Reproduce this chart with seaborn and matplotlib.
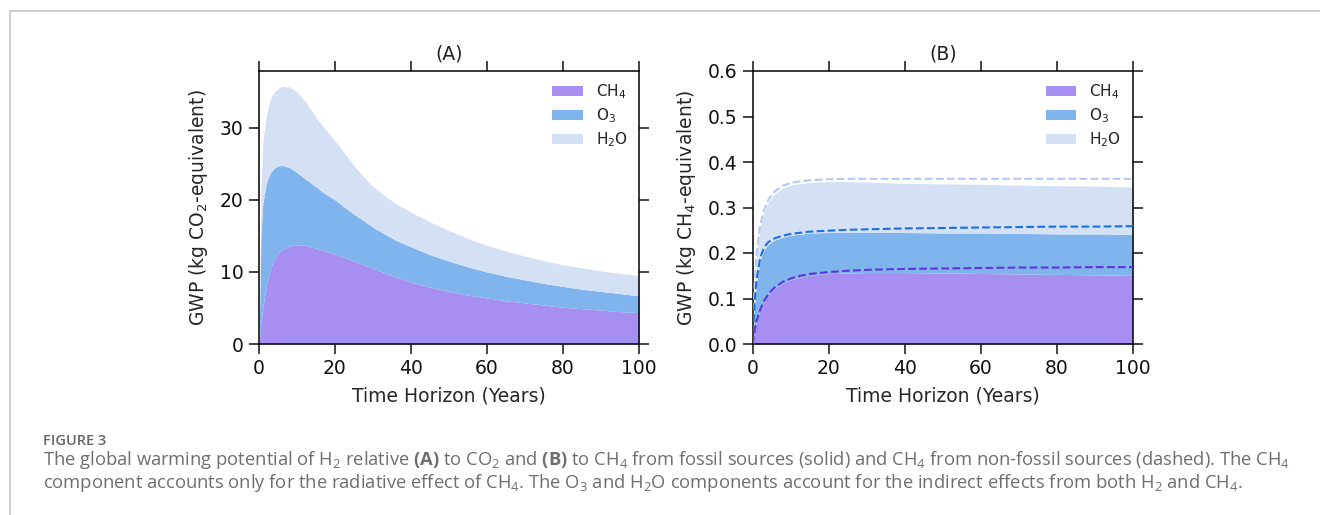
import matplotlib
matplotlib.use("Agg")
import numpy as np
import pandas as pd
import seaborn as sns
import matplotlib.pyplot as plt
from matplotlib.lines import Line2D
from matplotlib.patches import Patch

# ---------------- data ----------------
# Panel A: GWP of H2 relative to CO2 (fossil CH4), stacked tops
years_a = [0, 0.5, 1, 2, 3, 4, 5, 6, 8, 10, 12, 15, 17, 20, 22, 25, 27, 30, 33, 36, 40,
           45, 50, 55, 60, 65, 70, 75, 80, 85, 90, 95, 100]
a_ch4 = [0, 3.0, 5.0, 8.4, 10.5, 11.8, 12.6, 13.1, 13.6, 13.75, 13.7, 13.3, 13.0, 12.5,
         12.1, 11.5, 11.1, 10.5, 9.9, 9.3, 8.6, 7.9, 7.3, 6.8, 6.4, 6.0, 5.7, 5.4, 5.1,
         4.9, 4.7, 4.5, 4.35]
a_ch4_o3 = [0, 15.0, 19.5, 22.5, 23.8, 24.4, 24.7, 24.8, 24.5, 23.8, 23.0, 21.8, 21.0,
            20.0, 19.2, 18.0, 17.3, 16.2, 15.3, 14.4, 13.5, 12.4, 11.5, 10.7, 10.0, 9.4,
            8.9, 8.4, 8.0, 7.6, 7.3, 7.0, 6.7]
a_total = [0, 21.0, 28.0, 32.0, 34.0, 35.0, 35.5, 35.75, 35.7, 35.0, 33.8, 31.5, 30.1,
           28.2, 26.8, 24.75, 23.5, 21.85, 20.6, 19.5, 18.3, 16.95, 15.75, 14.65, 13.7,
           12.9, 12.2, 11.55, 11.0, 10.55, 10.15, 9.8, 9.5]

# Panel B: GWP of H2 relative to CH4, fossil (solid fill) and non-fossil (dashed)
years_b = [0, 0.5, 1, 2, 3, 4, 5, 6, 8, 10, 12, 15, 20, 25, 30, 40, 50, 60, 70, 80, 90, 100]
b_ch4 = [0, 0.03, 0.05, 0.075, 0.093, 0.106, 0.116, 0.123, 0.134, 0.141, 0.146, 0.151, 0.155,
         0.156, 0.157, 0.157, 0.156, 0.155, 0.154, 0.153, 0.152, 0.151]
b_ch4_o3 = [0, 0.085, 0.135, 0.185, 0.207, 0.218, 0.225, 0.229, 0.235, 0.239, 0.241, 0.244,
            0.245, 0.246, 0.246, 0.245, 0.244, 0.244, 0.243, 0.242, 0.242, 0.241]
b_total = [0, 0.125, 0.195, 0.257, 0.29, 0.31, 0.323, 0.332, 0.343, 0.349, 0.352, 0.355,
           0.357, 0.357, 0.356, 0.353, 0.352, 0.351, 0.349, 0.348, 0.347, 0.345]
bn_ch4 = [0, 0.03, 0.05, 0.076, 0.095, 0.108, 0.118, 0.126, 0.137, 0.144, 0.149, 0.154,
          0.158, 0.161, 0.163, 0.165, 0.166, 0.167, 0.168, 0.168, 0.169, 0.169]
bn_ch4_o3 = [0, 0.09, 0.14, 0.19, 0.212, 0.223, 0.229, 0.233, 0.238, 0.242, 0.244, 0.247,
             0.249, 0.251, 0.252, 0.254, 0.255, 0.256, 0.257, 0.258, 0.258, 0.259]
bn_total = [0, 0.13, 0.2, 0.262, 0.295, 0.315, 0.328, 0.337, 0.348, 0.354, 0.357, 0.36,
            0.362, 0.363, 0.363, 0.363, 0.363, 0.363, 0.363, 0.363, 0.363, 0.363]

components = ["CH$_4$", "O$_3$", "H$_2$O"]
xticks = [0, 20, 40, 60, 80, 100]
yticks_a = [0, 10, 20, 30]
yticks_b = [0.0, 0.1, 0.2, 0.3, 0.4, 0.5, 0.6]
titles = ["(A)", "(B)"]
ylabels = ["GWP (kg CO$_2$-equivalent)", "GWP (kg CH$_4$-equivalent)"]
xlabel = "Time Horizon (Years)"
fig_label = "FIGURE 3"
caption_1 = (r"The global warming potential of H$_2$ relative $\mathbf{(A)}$ to CO$_2$ and "
             r"$\mathbf{(B)}$ to CH$_4$ from fossil sources (solid) and CH$_4$ from "
             r"non-fossil sources (dashed). The CH$_4$")
caption_2 = (r"component accounts only for the radiative effect of CH$_4$. The O$_3$ and "
             r"H$_2$O components account for the indirect effects from both H$_2$ and CH$_4$.")

# ---------------- style ----------------
fill_colors = ["#a68ff1", "#80b4ec", "#d4e1f4"]
dash_colors = ["#5c35de", "#1b6fe2", "#b3c9f1"]

sns.set_theme(style="ticks")
plt.rcParams["font.family"] = ["DejaVu Sans"]
plt.rcParams["mathtext.fontset"] = "dejavusans"
plt.rcParams["mathtext.rm"] = "Open Sans"
plt.rcParams["mathtext.it"] = "Open Sans:italic"
plt.rcParams["mathtext.bf"] = "Open Sans:bold"
plt.rcParams["axes.edgecolor"] = "black"
plt.rcParams["axes.linewidth"] = 1.1
plt.rcParams["text.color"] = "#222222"

W, H = 1320, 515
fig = plt.figure(figsize=(W / 100, H / 100), dpi=100)
fig.patch.set_facecolor("white")

axA = fig.add_axes([259 / W, 1 - 344 / H, 380 / W, 273 / H])
axB = fig.add_axes([752.7 / W, 1 - 344 / H, 380 / W, 273 / H])

# Panel A fills
ta = np.array(years_a)
axA.fill_between(ta, 0, a_ch4, color=fill_colors[0], lw=0)
axA.fill_between(ta, a_ch4, a_ch4_o3, color=fill_colors[1], lw=0)
axA.fill_between(ta, a_ch4_o3, a_total, color=fill_colors[2], lw=0)

# Panel B fills (fossil)
tb = np.array(years_b)
axB.fill_between(tb, 0, b_ch4, color=fill_colors[0], lw=0)
axB.fill_between(tb, b_ch4, b_ch4_o3, color=fill_colors[1], lw=0)
axB.fill_between(tb, b_ch4_o3, b_total, color=fill_colors[2], lw=0)

# Panel B dashed (non-fossil)
dash_df = pd.DataFrame({"year": years_b * 3,
                        "value": bn_ch4 + bn_ch4_o3 + bn_total,
                        "comp": [c for c in components for _ in years_b]})
for comp, col in zip(reversed(components), reversed(dash_colors)):
    sub = dash_df[dash_df["comp"] == comp]
    sns.lineplot(data=sub, x="year", y="value", ax=axB, color=col,
                 linestyle="--", linewidth=1.5, legend=False, zorder=3)

for ax, ttl, ylab, yt in zip([axA, axB], titles, ylabels, [yticks_a, yticks_b]):
    ax.set_xlim(0, 100)
    ax.set_xticks(xticks)
    ax.set_yticks(yt)
    if ax is axB:
        ax.set_yticklabels([f"{v:.1f}" for v in yt])
    ax.tick_params(axis="both", which="major", direction="out", length=7, width=1.1,
                   top=True, right=True, labeltop=False, labelright=False,
                   labelsize=13.5, pad=4, colors="#111111")
    ax.set_title(ttl, fontsize=13.5, pad=8)
    ax.set_xlabel(xlabel, fontsize=13.5, labelpad=6)
    ax.set_ylabel(ylab, fontsize=13.5, labelpad=7)
    for s in ax.spines.values():
        s.set_visible(True)
        s.set_linewidth(1.1)
    handles = [Patch(facecolor=c, edgecolor="none") for c in fill_colors]
    ax.legend(handles, components, loc="upper right", frameon=False, fontsize=11,
              handlelength=2.0, handleheight=0.65, labelspacing=0.35,
              handletextpad=0.85, borderaxespad=0.35)

axA.set_ylim(0, 37.9)
axB.set_ylim(0, 0.6)

# ---------------- page frame & caption ----------------
fig.add_artist(Line2D([10 / W, 1.0], [1 - 11 / H, 1 - 11 / H], transform=fig.transFigure,
                      color="#c9c9c9", lw=1.3))
fig.add_artist(Line2D([10 / W, 10 / W], [1 - 11 / H, 0.0], transform=fig.transFigure,
                      color="#c9c9c9", lw=1.3))

fig.text(43 / W, 1 - 445 / H, fig_label, fontsize=10.5, color="#666666",
         family="Open Sans", fontweight="semibold", va="baseline", ha="left")
cap_kw = dict(color="#6e6e6e", family="Open Sans", va="baseline", ha="left",
              math_fontfamily="custom")
t1 = fig.text(43 / W, 1 - 465 / H, caption_1, fontsize=10.5, **cap_kw)
t2 = fig.text(43 / W, 1 - 488 / H, caption_2, fontsize=10.5, **cap_kw)

renderer = fig.canvas.get_renderer()
w1 = t1.get_window_extent(renderer).width
fs = 10.5 * (1297 - 43) / w1
t1.set_fontsize(fs)
t2.set_fontsize(fs)

fig.savefig("out.png", dpi=100, facecolor="white")
